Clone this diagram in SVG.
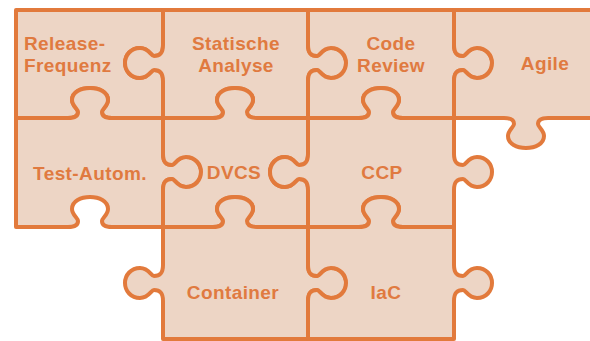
<svg xmlns="http://www.w3.org/2000/svg" width="590" height="341" viewBox="0 0 590 341">
<style>
.piece{fill:#edd5c5;stroke:#e27a3c;stroke-width:4;stroke-linejoin:round;stroke-linecap:round}
.lbl{font-family:"Liberation Sans",Arial,sans-serif;font-weight:bold;font-size:19px;fill:#e07a40;letter-spacing:0.4px}
.c{text-anchor:middle}
</style>
<rect width="590" height="341" fill="#ffffff"/>
<g id="release-frequenz">
<path class="piece" d="M16,10 H163 V45 c0,8 -3,11 -9,11 c-3,0 -5,-8 -14,-8 c-9,0 -15,7 -15,15 c0,8 6,15 15,15 c9,0 11,-8 14,-8 c6,0 9,3 9,11 V118 H112 c-7,0 -10,-2 -10,-6 c0,-3 6,-6 6,-12 c0,-8 -9,-12 -18,-12 c-9,0 -18,4 -18,12 c0,6 6,9 6,12 c0,4 -3,6 -10,6 H16 Z"/>
<text class="lbl" x="24" y="50">Release-</text>
<text class="lbl" x="24" y="72">Frequenz</text>
</g>
<g id="statische-analyse">
<path class="piece" d="M163,10 H308 V45 c0,8 3,11 9,11 c3,0 5,-8 14,-8 c9,0 15,7 15,15 c0,8 -6,15 -15,15 c-9,0 -11,-8 -14,-8 c-6,0 -9,3 -9,11 V118 H257 c-7,0 -10,-2 -10,-6 c0,-3 6,-6 6,-12 c0,-8 -9,-12 -18,-12 c-9,0 -18,4 -18,12 c0,6 6,9 6,12 c0,4 -3,6 -10,6 H163 V81 c0,-8 -3,-11 -9,-11 c-3,0 -5,8 -14,8 c-9,0 -15,-7 -15,-15 c0,-8 6,-15 15,-15 c9,0 11,8 14,8 c6,0 9,-3 9,-11 Z"/>
<text class="lbl c" x="236" y="50">Statische</text>
<text class="lbl c" x="236" y="72">Analyse</text>
</g>
<g id="code-review">
<path class="piece" d="M308,10 H454 V45 c0,8 3,11 9,11 c3,0 5,-8 14,-8 c9,0 15,7 15,15 c0,8 -6,15 -15,15 c-9,0 -11,-8 -14,-8 c-6,0 -9,3 -9,11 V118 H403 c-7,0 -10,-2 -10,-6 c0,-3 6,-6 6,-12 c0,-8 -9,-12 -18,-12 c-9,0 -18,4 -18,12 c0,6 6,9 6,12 c0,4 -3,6 -10,6 H308 V81 c0,-8 3,-11 9,-11 c3,0 5,8 14,8 c9,0 15,-7 15,-15 c0,-8 -6,-15 -15,-15 c-9,0 -11,8 -14,8 c-6,0 -9,-3 -9,-11 Z"/>
<text class="lbl c" x="391" y="50">Code</text>
<text class="lbl c" x="391" y="72">Review</text>
</g>
<g id="agile">
<path class="piece" d="M454,10 H600 V118 H548 c-7,0 -10,2 -10,6 c0,3 6,6 6,12 c0,8 -9,12 -18,12 c-9,0 -18,-4 -18,-12 c0,-6 6,-9 6,-12 c0,-4 -3,-6 -10,-6 H454 V81 c0,-8 3,-11 9,-11 c3,0 5,8 14,8 c9,0 15,-7 15,-15 c0,-8 -6,-15 -15,-15 c-9,0 -11,8 -14,8 c-6,0 -9,-3 -9,-11 Z"/>
<text class="lbl c" x="545" y="70">Agile</text>
</g>
<g id="test-autom">
<path class="piece" d="M16,118 H68 c7,0 10,-2 10,-6 c0,-3 -6,-6 -6,-12 c0,-8 9,-12 18,-12 c9,0 18,4 18,12 c0,6 -6,9 -6,12 c0,4 3,6 10,6 H163 V154 c0,8 3,11 9,11 c3,0 5,-8 14,-8 c9,0 15,7 15,15 c0,8 -6,15 -15,15 c-9,0 -11,-8 -14,-8 c-6,0 -9,3 -9,11 V227 H112 c-7,0 -10,-2 -10,-6 c0,-3 6,-6 6,-12 c0,-8 -9,-12 -18,-12 c-9,0 -18,4 -18,12 c0,6 6,9 6,12 c0,4 -3,6 -10,6 H16 Z"/>
<text class="lbl c" x="90" y="180">Test-Autom.</text>
</g>
<g id="dvcs">
<path class="piece" d="M163,118 H213 c7,0 10,-2 10,-6 c0,-3 -6,-6 -6,-12 c0,-8 9,-12 18,-12 c9,0 18,4 18,12 c0,6 -6,9 -6,12 c0,4 3,6 10,6 H308 V154 c0,8 -3,11 -9,11 c-3,0 -5,-8 -14,-8 c-9,0 -15,7 -15,15 c0,8 6,15 15,15 c9,0 11,-8 14,-8 c6,0 9,3 9,11 V227 H257 c-7,0 -10,-2 -10,-6 c0,-3 6,-6 6,-12 c0,-8 -9,-12 -18,-12 c-9,0 -18,4 -18,12 c0,6 6,9 6,12 c0,4 -3,6 -10,6 H163 V190 c0,-8 3,-11 9,-11 c3,0 5,8 14,8 c9,0 15,-7 15,-15 c0,-8 -6,-15 -15,-15 c-9,0 -11,8 -14,8 c-6,0 -9,-3 -9,-11 Z"/>
<text class="lbl c" x="234" y="179">DVCS</text>
</g>
<g id="ccp">
<path class="piece" d="M308,118 H359 c7,0 10,-2 10,-6 c0,-3 -6,-6 -6,-12 c0,-8 9,-12 18,-12 c9,0 18,4 18,12 c0,6 -6,9 -6,12 c0,4 3,6 10,6 H454 V154 c0,8 3,11 9,11 c3,0 5,-8 14,-8 c9,0 15,7 15,15 c0,8 -6,15 -15,15 c-9,0 -11,-8 -14,-8 c-6,0 -9,3 -9,11 V227 H403 c-7,0 -10,-2 -10,-6 c0,-3 6,-6 6,-12 c0,-8 -9,-12 -18,-12 c-9,0 -18,4 -18,12 c0,6 6,9 6,12 c0,4 -3,6 -10,6 H308 V190 c0,-8 -3,-11 -9,-11 c-3,0 -5,8 -14,8 c-9,0 -15,-7 -15,-15 c0,-8 6,-15 15,-15 c9,0 11,8 14,8 c6,0 9,-3 9,-11 Z"/>
<text class="lbl c" x="382" y="179">CCP</text>
</g>
<g id="container">
<path class="piece" d="M163,227 H213 c7,0 10,-2 10,-6 c0,-3 -6,-6 -6,-12 c0,-8 9,-12 18,-12 c9,0 18,4 18,12 c0,6 -6,9 -6,12 c0,4 3,6 10,6 H308 V265 c0,8 3,11 9,11 c3,0 5,-8 14,-8 c9,0 15,7 15,15 c0,8 -6,15 -15,15 c-9,0 -11,-8 -14,-8 c-6,0 -9,3 -9,11 V339 H163 V301 c0,-8 -3,-11 -9,-11 c-3,0 -5,8 -14,8 c-9,0 -15,-7 -15,-15 c0,-8 6,-15 15,-15 c9,0 11,8 14,8 c6,0 9,-3 9,-11 Z"/>
<text class="lbl c" x="233" y="299">Container</text>
</g>
<g id="iac">
<path class="piece" d="M308,227 H359 c7,0 10,-2 10,-6 c0,-3 -6,-6 -6,-12 c0,-8 9,-12 18,-12 c9,0 18,4 18,12 c0,6 -6,9 -6,12 c0,4 3,6 10,6 H454 V265 c0,8 3,11 9,11 c3,0 5,-8 14,-8 c9,0 15,7 15,15 c0,8 -6,15 -15,15 c-9,0 -11,-8 -14,-8 c-6,0 -9,3 -9,11 V339 H308 V301 c0,-8 3,-11 9,-11 c3,0 5,8 14,8 c9,0 15,-7 15,-15 c0,-8 -6,-15 -15,-15 c-9,0 -11,8 -14,8 c-6,0 -9,-3 -9,-11 Z"/>
<text class="lbl c" x="386" y="299">IaC</text>
</g>
<g id="connectors"></g>
</svg>
